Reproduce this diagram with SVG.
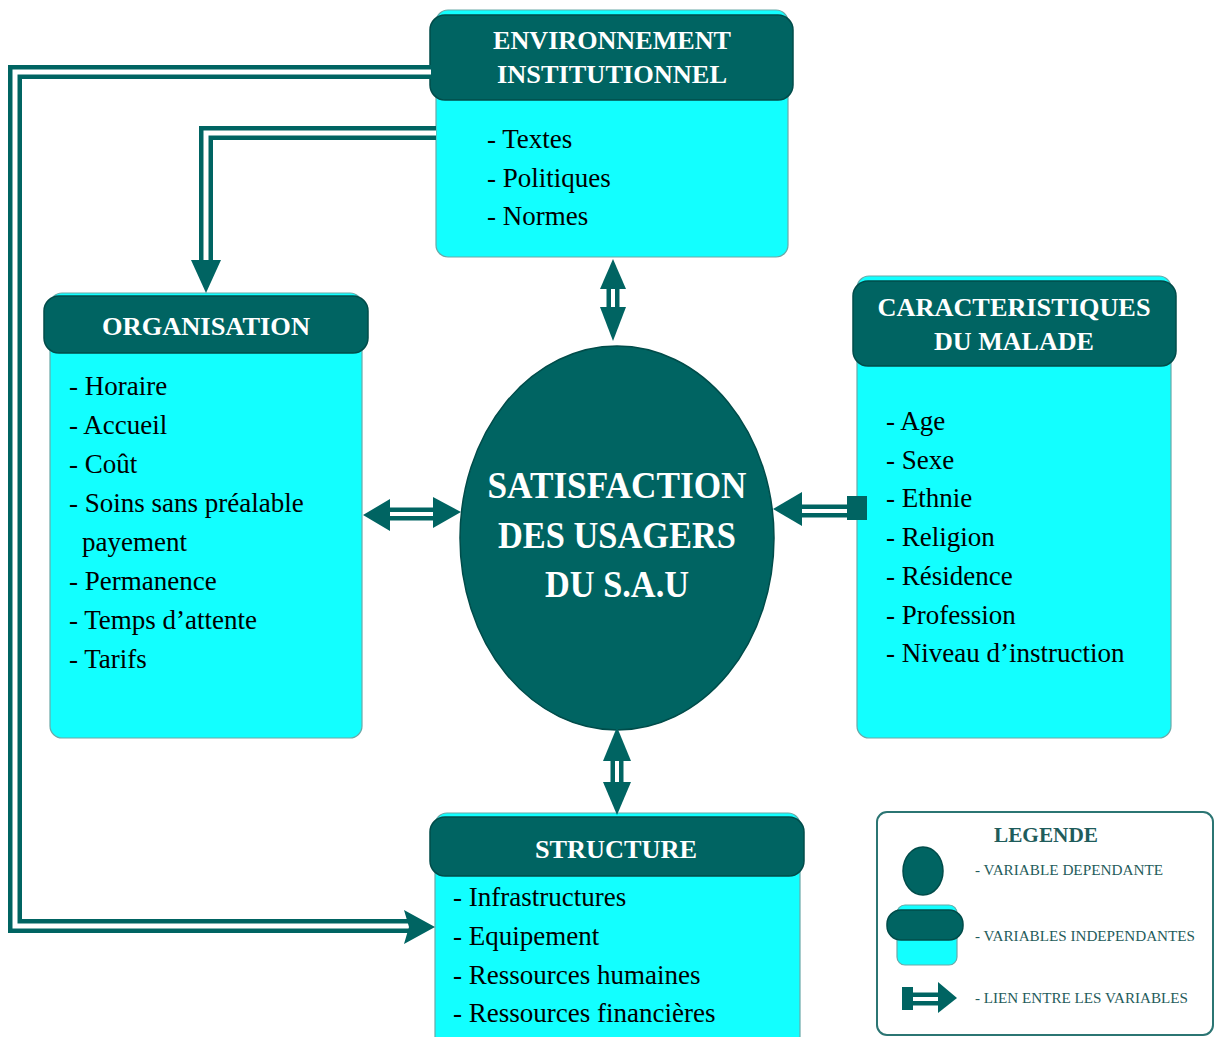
<svg xmlns="http://www.w3.org/2000/svg" width="1215" height="1037" viewBox="0 0 1215 1037">
<defs>
<style>
.body{fill:#12FFFF;stroke:#6aa9a8;stroke-width:1.2}
.head{fill:#006462;stroke:#004c4a;stroke-width:1.5}
.ht{font-family:"Liberation Serif",serif;font-weight:bold;font-size:25px;fill:#ffffff;text-anchor:middle}
.it{font-family:"Liberation Serif",serif;font-size:27px;fill:#000000}
.mt{font-family:"Liberation Serif",serif;font-weight:bold;font-size:38px;fill:#ffffff;text-anchor:middle}
.lt{font-family:"Liberation Serif",serif;font-size:15px;fill:#1f5c5b}
.dk{fill:#006462}
.outer{fill:none;stroke:#006462;stroke-width:14;stroke-linejoin:miter}
.inner{fill:none;stroke:#ffffff;stroke-width:5;stroke-linejoin:miter}
</style>
</defs>
<rect width="1215" height="1037" fill="#ffffff"/>

<g id="environnement">
  <rect class="body" x="436" y="10" width="352" height="247" rx="12"/>
  <rect class="head" x="430" y="15" width="363" height="85" rx="15"/>
  <text class="ht" x="612" y="49" textLength="238" lengthAdjust="spacingAndGlyphs">ENVIRONNEMENT</text>
  <text class="ht" x="612" y="83" textLength="230" lengthAdjust="spacingAndGlyphs">INSTITUTIONNEL</text>
  <text class="it" x="487" y="148">- Textes</text>
  <text class="it" x="487" y="187">- Politiques</text>
  <text class="it" x="487" y="225">- Normes</text>
</g>

<g id="organisation">
  <rect class="body" x="50" y="293" width="312" height="445" rx="12"/>
  <rect class="head" x="44" y="296" width="324" height="57" rx="15"/>
  <text class="ht" x="206" y="335" textLength="208" lengthAdjust="spacingAndGlyphs">ORGANISATION</text>
  <text class="it" x="69" y="395">- Horaire</text>
  <text class="it" x="69" y="434">- Accueil</text>
  <text class="it" x="69" y="473">- Coût</text>
  <text class="it" x="69" y="512">- Soins sans préalable</text>
  <text class="it" x="82" y="551">payement</text>
  <text class="it" x="69" y="590">- Permanence</text>
  <text class="it" x="69" y="629">- Temps d’attente</text>
  <text class="it" x="69" y="668">- Tarifs</text>
</g>

<g id="caracteristiques">
  <rect class="body" x="857" y="276" width="314" height="462" rx="12"/>
  <rect class="head" x="853" y="281" width="323" height="85" rx="15"/>
  <text class="ht" x="1014" y="316" textLength="273" lengthAdjust="spacingAndGlyphs">CARACTERISTIQUES</text>
  <text class="ht" x="1014" y="350" textLength="160" lengthAdjust="spacingAndGlyphs">DU MALADE</text>
  <text class="it" x="886" y="430">- Age</text>
  <text class="it" x="886" y="469">- Sexe</text>
  <text class="it" x="886" y="507">- Ethnie</text>
  <text class="it" x="886" y="546">- Religion</text>
  <text class="it" x="886" y="585">- Résidence</text>
  <text class="it" x="886" y="624">- Profession</text>
  <text class="it" x="886" y="662">- Niveau d’instruction</text>
</g>

<g id="structure">
  <rect class="body" x="435" y="813" width="365" height="240" rx="12"/>
  <rect class="head" x="430" y="817" width="374" height="59" rx="15"/>
  <text class="ht" x="616" y="858" textLength="162" lengthAdjust="spacingAndGlyphs">STRUCTURE</text>
  <text class="it" x="453" y="906">- Infrastructures</text>
  <text class="it" x="453" y="945">- Equipement</text>
  <text class="it" x="453" y="984">- Ressources humaines</text>
  <text class="it" x="453" y="1022">- Ressources financières</text>
</g>

<g id="satisfaction">
  <ellipse cx="617" cy="538" rx="157" ry="192" fill="#006462" stroke="#004c4a" stroke-width="1.5"/>
  <text class="mt" x="617" y="498" textLength="259" lengthAdjust="spacingAndGlyphs">SATISFACTION</text>
  <text class="mt" x="617" y="548" textLength="238" lengthAdjust="spacingAndGlyphs">DES USAGERS</text>
  <text class="mt" x="617" y="597" textLength="144" lengthAdjust="spacingAndGlyphs">DU S.A.U</text>
</g>

<g id="legende">
  <rect x="877" y="812" width="336" height="223" rx="10" fill="#ffffff" stroke="#2b7573" stroke-width="2"/>
  <text x="1046" y="842" font-family="Liberation Serif, serif" font-weight="bold" font-size="22" fill="#1f5c5b" text-anchor="middle" textLength="104" lengthAdjust="spacingAndGlyphs">LEGENDE</text>
  <ellipse cx="923" cy="871" rx="20" ry="24" fill="#006462" stroke="#004c4a" stroke-width="1.5"/>
  <text class="lt" x="975" y="875" textLength="188" lengthAdjust="spacingAndGlyphs">- VARIABLE DEPENDANTE</text>
  <rect class="body" x="897" y="905" width="60" height="60" rx="8"/>
  <rect class="head" x="887" y="910" width="76" height="30" rx="14"/>
  <text class="lt" x="975" y="941" textLength="220" lengthAdjust="spacingAndGlyphs">- VARIABLES INDEPENDANTES</text>
  <path d="M910 999 H942" fill="none" stroke="#006462" stroke-width="13"/>
  <path d="M910 999 H944" fill="none" stroke="#ffffff" stroke-width="4"/>
  <rect class="dk" x="902" y="987" width="11" height="23"/>
  <polygon class="dk" points="957,998 938,982 938,1013"/>
  <text class="lt" x="975" y="1003" textLength="213" lengthAdjust="spacingAndGlyphs">- LIEN ENTRE LES VARIABLES</text>
</g>

<g id="connectors">
  <!-- Environnement to Structure (outer loop) -->
  <path class="outer" d="M431 72 H15 V926 H410"/>
  <path class="inner" d="M431 72 H15 V926 H412"/>
  <polygon class="dk" points="404,910 435,927 404,944 409,927"/>
  <!-- Environnement to Organisation -->
  <path class="outer" d="M436 133 H206 V264"/>
  <path class="inner" d="M436 133 H206 V266"/>
  <polygon class="dk" points="191,260 221,260 206,293"/>
  <!-- Environnement <-> Satisfaction -->
  <path class="outer" d="M613 282 V314" style="stroke-width:13"/>
  <path class="inner" d="M613 280 V316" style="stroke-width:4"/>
  <polygon class="dk" points="613,259 626,289 600,289"/>
  <polygon class="dk" points="613,341 626,307 600,307"/>
  <!-- Satisfaction <-> Structure -->
  <path class="outer" d="M617 755 V788" style="stroke-width:13"/>
  <path class="inner" d="M617 753 V790" style="stroke-width:4"/>
  <polygon class="dk" points="617,727 631,761 603,761"/>
  <polygon class="dk" points="617,815 631,782 603,782"/>
  <!-- Organisation <-> Satisfaction -->
  <path class="outer" d="M385 514 H438" style="stroke-width:13"/>
  <path class="inner" d="M383 514 H440" style="stroke-width:4"/>
  <polygon class="dk" points="363,515 390,499 390,531"/>
  <polygon class="dk" points="461,512 433,497 433,528"/>
  <!-- Caracteristiques -> Satisfaction -->
  <path class="outer" d="M797 511 H849" style="stroke-width:13"/>
  <path class="inner" d="M795 511 H849" style="stroke-width:4"/>
  <rect class="dk" x="847" y="496" width="20" height="24"/>
  <polygon class="dk" points="773,509 802,492 802,526"/>
</g>
</svg>
